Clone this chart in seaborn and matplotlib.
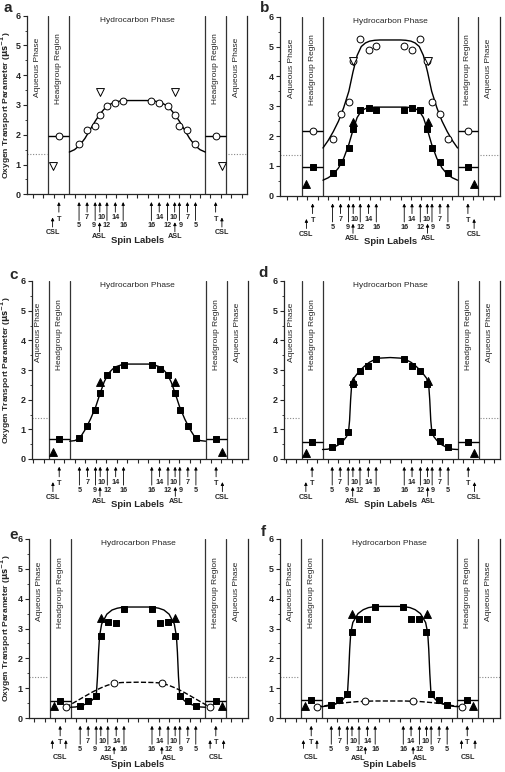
import numpy as np
import matplotlib
matplotlib.use('Agg')
import matplotlib.pyplot as plt
from matplotlib.ticker import MultipleLocator
import seaborn as sns

sns.set_style('ticks')
plt.rcParams['font.family'] = ['Liberation Sans', 'DejaVu Sans']

# label positions on the left leaflet (right leaflet is the mirror image)
spin_names = ['5', '7', '9', '10', '12', '14', '16']
spin_x = [-5.57, -4.8, -4.03, -3.58, -2.9, -2.1, -1.35]
t_x, csl_x, asl_x = -7.5, -8.1, -3.6
csl2_x, asl2_x = -6.95, -2.3   # extra CSL / ASL positions in e and f

# fitted profile x-grids (left half, 0 = bilayer centre)
fit_x_smooth = [-6.5, -6, -5.5, -5, -4.5, -4, -3.6, -3.2, -2.8, -2.4, -2, -1.5, -1, 0]
fit_x_steep = [-6.5, -6, -5.5, -5, -4.5, -4.2, -4.0, -3.9, -3.8, -3.7, -3.5, -3.0, -2.5, -2, -1.5, -1, 0]

# panel a
a_circ = [1.7, 2.17, 2.3, 2.68, 2.97, 3.08, 3.13]
a_t_circ = 1.97
a_asl_vtri = 3.42
a_csl_vtri = 0.95
a_fit = [1.42, 1.5, 1.65, 1.88, 2.18, 2.47, 2.68, 2.85, 2.98, 3.06, 3.11, 3.14, 3.15, 3.15]

# panel b
b_circ = [1.89, 2.74, 3.15, 4.52, 5.24, 4.87, 5.02]
b_t_circ = 2.17
b_asl_vtri = 4.5
b_sq = [0.77, 1.14, 1.59, 2.22, 2.88, 2.94, 2.87]
b_t_sq = 0.95
b_asl_tri = 2.46
b_csl_tri = 0.38
b_fit_up = [1.6, 1.85, 2.15, 2.5, 2.95, 3.5, 4.15, 4.7, 5.0, 5.12, 5.18, 5.21, 5.22, 5.22]
b_fit_lo = [0.52, 0.6, 0.72, 0.93, 1.25, 1.72, 2.2, 2.62, 2.84, 2.92, 2.95, 2.97, 2.97, 2.97]

# panel c
c_sq = [0.71, 1.12, 1.64, 2.22, 2.84, 3.03, 3.17]
c_t_sq = 0.67
c_asl_tri = 2.58
c_csl_tri = 0.24
c_fit = [0.6, 0.62, 0.72, 1.0, 1.35, 1.77, 2.2, 2.6, 2.88, 3.03, 3.12, 3.18, 3.2, 3.2]

# panel d
d_sq = [0.4, 0.62, 0.9, 2.52, 2.97, 3.15, 3.36]
d_t_sq = 0.56
d_asl_tri = 2.63
d_csl_tri = 0.2
d_fit = [0.32, 0.33, 0.38, 0.47, 0.62, 0.75, 0.92, 1.3, 2.0, 2.5, 2.72, 2.95, 3.12, 3.26, 3.35, 3.4, 3.42]

# panel e
e_sq = [0.41, 0.56, 0.75, 2.74, 3.22, 3.18, 3.66]
e_t_sq = 0.57
e_asl_tri = 3.35
e_csl_tri = 0.39
e_fit = [0.36, 0.37, 0.41, 0.47, 0.57, 0.68, 0.85, 1.4, 2.2, 2.75, 3.15, 3.48, 3.62, 3.68, 3.71, 3.72, 3.72]
e_open_x = [csl2_x, asl2_x]
e_open = [0.36, 1.17]
e_dash_x = [-6.95, -6.5, -6, -5.5, -5, -4.5, -4, -3.5, -3, -2.3, -1.5, 0]
e_dash = [0.36, 0.45, 0.55, 0.65, 0.75, 0.85, 0.94, 1.02, 1.09, 1.17, 1.19, 1.2]

# panel f
f_sq = [0.45, 0.61, 0.82, 2.87, 3.33, 3.33, 3.71]
f_t_sq = 0.61
f_asl_tri = 3.5
f_csl_tri = 0.39
f_fit = [0.38, 0.4, 0.44, 0.5, 0.6, 0.72, 0.9, 1.5, 2.3, 2.85, 3.2, 3.5, 3.63, 3.7, 3.73, 3.74, 3.74]
f_open_x = [csl2_x, asl2_x]
f_open = [0.37, 0.56]
f_dash_x = [-6.95, -6, -5, -4, -3, -2.3, -1.5, 0]
f_dash = [0.37, 0.42, 0.48, 0.52, 0.55, 0.56, 0.57, 0.57]

aqueous_level = 1.37


def mirror(xs, ys):
    xs = np.asarray(xs, float)
    ys = np.asarray(ys, float)
    keep = xs < 0
    return (np.concatenate([xs, -xs[keep][::-1]]),
            np.concatenate([ys, ys[keep][::-1]]))


def both_sides(x, y):
    return [x, -x], [y, y]


def pts(ax, xs, ys, marker, filled, size=24):
    sns.scatterplot(x=xs, y=ys, marker=marker, s=size, ax=ax, zorder=5,
                    color='black' if filled else 'white', edgecolor='black',
                    linewidth=0.7, legend=False, clip_on=False)


def curve(ax, xs, ys, ls='-'):
    mx, my = mirror(xs, ys)
    sns.lineplot(x=mx, y=my, sort=False, estimator=None, color='black',
                 lw=1.0, linestyle=ls, ax=ax, zorder=3)


def arrow(ax, x, tip, tail):
    ax.annotate('', xy=(x, tip), xytext=(x, tail), annotation_clip=False,
                arrowprops=dict(arrowstyle='-|>', color='black', lw=0.6,
                                mutation_scale=4.5, shrinkA=0, shrinkB=0))


def lab(ax, x, y, s, size=5.2):
    ax.text(x, y, s, ha='center', va='center', fontsize=size,
            fontweight='bold', clip_on=False)


def frame(ax, xlim, extra, ylabel, left_px, width_px):
    ax.set_xlim(*xlim)
    ax.set_ylim(0, 6)
    for xv in (-8.5, -6.5, 6.5, 8.5):
        ax.axvline(xv, color='#333333', lw=0.9, zorder=1)
    ax.spines['top'].set_visible(False)
    for s in ('left', 'bottom', 'right'):
        ax.spines[s].set_linewidth(0.9)
    ax.xaxis.set_major_locator(MultipleLocator(1))
    ax.yaxis.set_major_locator(MultipleLocator(1))
    ax.yaxis.set_minor_locator(MultipleLocator(0.5))
    ax.tick_params(axis='both', which='major', direction='out', length=3,
                   width=0.8, labelsize=6.5, pad=1.5, right=False, top=False)
    ax.tick_params(axis='y', which='minor', direction='out', length=1.8, width=0.6)
    ax.set_xticklabels([])
    for t in ax.get_yticklabels():
        t.set_fontweight('bold')
    ax.set_xlabel('')
    if ylabel:
        ax.set_ylabel(r'Oxygen Transport Parameter ($\mathbf{\mu s^{-1}}$)',
                      fontsize=6.1, fontweight='bold')
        ax.yaxis.set_label_coords((13.0 - left_px) / width_px, 0.5)
    else:
        ax.set_ylabel('')

    # region titles
    ax.text(0, 5.85, 'Hydrocarbon Phase', ha='center', va='center', fontsize=6)
    for sgn in (-1, 1):
        ax.text(sgn * 9.5, 5.25, 'Aqueous Phase', rotation=90, ha='center',
                va='top', fontsize=6)
        ax.text(sgn * 7.5, 5.4, 'Headgroup Region', rotation=90, ha='center',
                va='top', fontsize=6)
        ax.hlines(aqueous_level, *sorted([sgn * 8.65, xlim[0] if sgn < 0 else xlim[1]]),
                  colors='#888888', linestyles=(0, (1, 1.5)), lw=0.8)

    # spin label arrows
    for sgn in (-1, 1):
        for name, x in zip(spin_names, spin_x):
            xx = -x if sgn > 0 else x
            if name in ('7', '10', '14'):
                arrow(ax, xx, -0.26, -0.6)
                lab(ax, xx + (0.12 * -sgn if name == '10' else 0), -0.79, name)
            else:
                arrow(ax, xx, -0.26, -0.88)
                lab(ax, xx + (0.1 * sgn if name == '9' else 0), -1.06, name)
        arrow(ax, sgn * -t_x, -0.26, -0.6)
        lab(ax, sgn * -t_x, -0.83, 'T')
        if extra:
            arrow(ax, sgn * 8.25, -0.74, -1.02)
            arrow(ax, sgn * -csl2_x, -0.74, -1.02)
            lab(ax, sgn * 7.55, -1.33, 'CSL')
            arrow(ax, sgn * -asl2_x, -0.96, -1.2)
            lab(ax, sgn * 3.0, -1.36, 'ASL')
        else:
            arrow(ax, sgn * -csl_x, -0.78, -1.1)
            lab(ax, sgn * 8.1, -1.3, 'CSL')
            arrow(ax, sgn * -asl_x, -0.94, -1.26)
            lab(ax, sgn * 3.65, -1.42, 'ASL')
    ax.text(0, -1.55, 'Spin Labels', ha='center', va='center', fontsize=6.8,
            fontweight='bold', clip_on=False)


def headgroup(ax, level):
    for sgn in (-1, 1):
        ax.hlines(level, *sorted([sgn * 8.5, sgn * 6.5]), colors='black', lw=1.0, zorder=3)


W, H = 506, 772
fig = plt.figure(figsize=(W / 100, H / 100), dpi=100)


def make_ax(left, right, top, bottom):
    return fig.add_axes([left / W, 1 - bottom / H, (right - left) / W, (bottom - top) / H])


# ---- a
ax = make_ax(27, 247, 15.7, 194.3)
headgroup(ax, a_t_circ)
curve(ax, fit_x_smooth, a_fit)
mx, my = mirror(spin_x, a_circ)
pts(ax, mx, my, 'o', False)
pts(ax, *both_sides(t_x, a_t_circ), 'o', False)
pts(ax, *both_sides(asl_x, a_asl_vtri), 'v', False, 32)
pts(ax, *both_sides(csl_x, a_csl_vtri), 'v', False, 32)
frame(ax, (-10.55, 10.5), False, True, 27, 220)

# ---- b
ax = make_ax(280, 500, 16.7, 195.7)
headgroup(ax, b_t_circ)
headgroup(ax, b_t_sq)
curve(ax, fit_x_smooth, b_fit_up)
curve(ax, fit_x_smooth, b_fit_lo)
mx, my = mirror(spin_x, b_circ)
pts(ax, mx, my, 'o', False)
pts(ax, *both_sides(t_x, b_t_circ), 'o', False)
pts(ax, *both_sides(asl_x, b_asl_vtri), 'v', False, 32)
mx, my = mirror(spin_x, b_sq)
pts(ax, mx, my, 's', True)
pts(ax, *both_sides(t_x, b_t_sq), 's', True)
pts(ax, *both_sides(asl_x, b_asl_tri), '^', True, 32)
pts(ax, *both_sides(csl_x, b_csl_tri), '^', True, 32)
frame(ax, (-10.65, 10.6), False, False, 280, 220)

# ---- c
ax = make_ax(32, 248, 281, 459)
headgroup(ax, c_t_sq)
curve(ax, fit_x_smooth, c_fit)
mx, my = mirror(spin_x, c_sq)
pts(ax, mx, my, 's', True)
pts(ax, *both_sides(t_x, c_t_sq), 's', True)
pts(ax, *both_sides(asl_x, c_asl_tri), '^', True, 32)
pts(ax, *both_sides(csl_x, c_csl_tri), '^', True, 32)
frame(ax, (-10.1, 10.55), False, True, 32, 216)

# ---- d
ax = make_ax(284, 500, 281, 459)
headgroup(ax, d_t_sq)
curve(ax, fit_x_steep, d_fit)
mx, my = mirror(spin_x, d_sq)
pts(ax, mx, my, 's', True)
pts(ax, *both_sides(t_x, d_t_sq), 's', True)
pts(ax, *both_sides(asl_x, d_asl_tri), '^', True, 32)
pts(ax, *both_sides(csl_x, d_csl_tri), '^', True, 32)
frame(ax, (-10.2, 10.55), False, False, 284, 216)

# ---- e
ax = make_ax(29, 248, 539, 718)
headgroup(ax, e_t_sq)
curve(ax, fit_x_steep, e_fit)
curve(ax, e_dash_x, e_dash, '--')
mx, my = mirror(spin_x, e_sq)
pts(ax, mx, my, 's', True)
pts(ax, *both_sides(t_x, e_t_sq), 's', True)
pts(ax, *both_sides(asl_x, e_asl_tri), '^', True, 32)
pts(ax, *both_sides(csl_x, e_csl_tri), '^', True, 32)
mx, my = mirror(e_open_x, e_open)
pts(ax, mx, my, 'o', False)
frame(ax, (-10.5, 10.6), True, True, 29, 219)

# ---- f
ax = make_ax(280, 500, 539, 718)
headgroup(ax, f_t_sq)
curve(ax, fit_x_steep, f_fit)
curve(ax, f_dash_x, f_dash, '--')
mx, my = mirror(spin_x, f_sq)
pts(ax, mx, my, 's', True)
pts(ax, *both_sides(t_x, f_t_sq), 's', True)
pts(ax, *both_sides(asl_x, f_asl_tri), '^', True, 32)
pts(ax, *both_sides(csl_x, f_csl_tri), '^', True, 32)
mx, my = mirror(f_open_x, f_open)
pts(ax, mx, my, 'o', False)
frame(ax, (-10.5, 10.65), True, False, 280, 220)

# panel letters
for letter, (px, py) in zip('abcdef', [(8, 8), (265, 8), (14, 275), (263, 273), (14, 535), (263, 532)]):
    fig.text(px / W, 1 - py / H, letter, fontsize=11, fontweight='bold',
             ha='center', va='center')

fig.savefig('out.png', dpi=100)
